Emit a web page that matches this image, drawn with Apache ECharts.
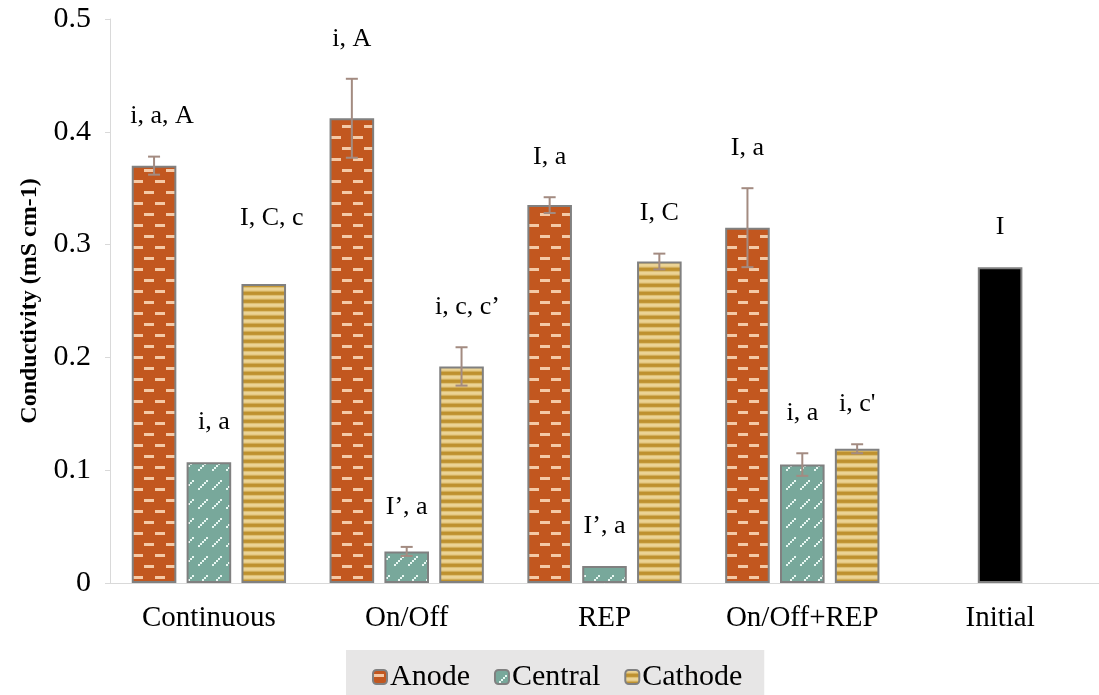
<!DOCTYPE html>
<html>
<head>
<meta charset="utf-8">
<script src="https://cdn.jsdelivr.net/npm/echarts@6/dist/echarts.min.js"></script>
<style>
html,body{margin:0;padding:0;background:#fff;}
#chart{width:1099px;height:695px;}
</style>
</head>
<body>
<div id="chart"></div>
<script>
// ---------- data ----------
const categories = ['Continuous', 'On/Off', 'REP', 'On/Off+REP', 'Initial'];
const seriesNames = ['Anode', 'Central', 'Cathode'];
const anode   = [0.370, 0.412, 0.335, 0.315, '-'];
const central = [0.107, 0.028, 0.015, 0.105, '-'];
const cathode = [0.265, 0.192, 0.285, 0.119, '-'];
const initialValue = 0.280;            // "Initial" category, drawn in the middle slot
const anodeErr   = [0.008, 0.035, 0.007, 0.035, 0];
const centralErr = [0.000, 0.004, 0.000, 0.010, 0];
const cathodeErr = [0.000, 0.017, 0.007, 0.004, 0];
const anodeLabels   = ['i, a, A', 'i, A', 'I, a', 'I, a', ''];
const centralLabels = ['i, a', 'I\u2019, a', 'I\u2019, a', 'i, a', 'I'];
const cathodeLabels = ['I, C, c', 'i, c, c\u2019', 'I, C', "i, c'", ''];
const yTicks = { min: 0, max: 0.5, interval: 0.1 };

// ---------- style ----------
const FONT = '"Liberation Serif", "Times New Roman", serif';
const BAR_CAT_GAP = 0.22, BAR_GAP = 0.23;
const LABEL_ABOVE = 40;
const labelShift = { '2-0': [8, -26], '0-0': [8, 0], '2-1': [6, 0], '1-0': [5, 0] };   // [dx, dy] px for individual labels

function makePattern(w, h, draw) {
  const c = document.createElement('canvas');
  c.width = w; c.height = h;
  draw(c.getContext('2d'));
  return { image: c, repeat: 'repeat' };
}
const anodeFill = makePattern(22, 22, g => {
  g.fillStyle = '#C2571F'; g.fillRect(0, 0, 22, 22);
  g.fillStyle = '#F4C9A6';
  g.fillRect(1, 4, 10, 3);
  g.fillRect(12, 15, 10, 3);
});
const centralFill = makePattern(14, 19, g => {
  g.fillStyle = '#78A89B'; g.fillRect(0, 0, 14, 19);
  g.fillStyle = 'rgba(232,247,242,1)';
  for (let k = 0; k < 5; k++) {
    g.fillRect(2 + k * 2, 13 - k * 2, 2, 2);
  }
});
const cathodeFill = makePattern(4, 8, g => {
  const cols = ['#EBD395', '#EBD395', '#E6CA85', '#D2AE5A', '#BE912F', '#BE912F', '#C29636', '#DDBF73'];
  cols.forEach((c, i) => { g.fillStyle = c; g.fillRect(0, i, 4, 1); });
});

const fills = [anodeFill, centralFill, cathodeFill];
const values = [anode, central, cathode];
const errs = [anodeErr, centralErr, cathodeErr];
const labels = [anodeLabels, centralLabels, cathodeLabels];

const barSeries = seriesNames.map((name, s) => ({
  name, type: 'bar',
  barCategoryGap: (BAR_CAT_GAP * 100) + '%',
  barGap: (BAR_GAP * 100) + '%',
  itemStyle: { color: fills[s], borderColor: '#808080', borderWidth: 2 },
  data: values[s].map((v, i) => (s === 1 && categories[i] === 'Initial')
    ? { value: initialValue, itemStyle: { color: '#000000' } } : v),
  z: 2
}));

// overlay data: [category, value, err, seriesIdx]
const overlayData = [];
seriesNames.forEach((n, s) => {
  categories.forEach((c, i) => {
    let v = values[s][i];
    if (s === 1 && c === 'Initial') v = initialValue;
    if (v === '-') return;
    overlayData.push([i, v, errs[s][i], s]);
  });
});

function renderOverlay(params, api) {
  const ci = api.value(0), v = api.value(1), e = api.value(2), s = api.value(3);
  const band = api.size([1, 0])[0];
  const w = band * (1 - BAR_CAT_GAP) / (3 + 2 * BAR_GAP);
  const x0 = api.coord([ci, 0])[0] - band * (1 - BAR_CAT_GAP) / 2;
  const x = x0 + s * w * (1 + BAR_GAP) + w / 2;
  const yTop = api.coord([ci, v + e])[1];
  const yBot = api.coord([ci, v - e])[1];
  const children = [];
  const ls = { stroke: '#A38B81', lineWidth: 2 };
  if (e > 0) {
    children.push({ type: 'line', shape: { x1: x, y1: yTop, x2: x, y2: yBot }, style: ls });
    children.push({ type: 'line', shape: { x1: x - 6, y1: yTop, x2: x + 6, y2: yTop }, style: ls });
    children.push({ type: 'line', shape: { x1: x - 6, y1: yBot, x2: x + 6, y2: yBot }, style: ls });
  }
  const txt = labels[s][ci];
  if (txt) {
    const sh = labelShift[s + '-' + ci] || [0, 0];
    children.push({
      type: 'text',
      style: { x: x + sh[0], y: yTop - LABEL_ABOVE + sh[1], text: txt, fill: '#000',
               font: '26px ' + FONT, align: 'center', verticalAlign: 'middle' }
    });
  }
  return { type: 'group', children };
}

const chart = echarts.init(document.getElementById('chart'), null, { renderer: 'canvas' });
chart.setOption({
  animation: false,
  backgroundColor: '#ffffff',
  grid: { left: 110, right: -9, top: 19, bottom: 112, containLabel: false },
  legend: {
    data: seriesNames,
    left: 346, top: 650,
    backgroundColor: '#E7E6E6',
    padding: [12, 22, 14, 26],
    itemGap: 24, itemWidth: 14, itemHeight: 14,
    textStyle: { fontFamily: FONT, fontSize: 30, color: '#000', padding: [0, 0, 0, -2] }
  },
  xAxis: {
    type: 'category', data: categories,
    axisLine: { lineStyle: { color: '#D9D9D9', width: 1 } },
    axisTick: { show: false },
    axisLabel: { color: '#000', fontFamily: FONT, fontSize: 29, margin: 21, interval: 0, hideOverlap: false }
  },
  yAxis: {
    type: 'value', min: yTicks.min, max: yTicks.max, interval: yTicks.interval,
    name: 'Conductivity (mS cm-1)', nameLocation: 'middle', nameGap: 68,
    nameTextStyle: { fontFamily: FONT, fontSize: 24, fontWeight: 'bold', color: '#000' },
    axisLine: { show: true, lineStyle: { color: '#D9D9D9' } },
    axisTick: { show: true, length: 5, lineStyle: { color: '#D9D9D9' } },
    splitLine: { show: false },
    axisLabel: { color: '#000', fontFamily: FONT, fontSize: 30, margin: 19 }
  },
  series: barSeries.concat([{
    type: 'custom', name: 'overlay', renderItem: renderOverlay,
    data: overlayData, encode: { x: 0, y: 1 }, z: 5, silent: true
  }])
});
</script>
</body>
</html>
